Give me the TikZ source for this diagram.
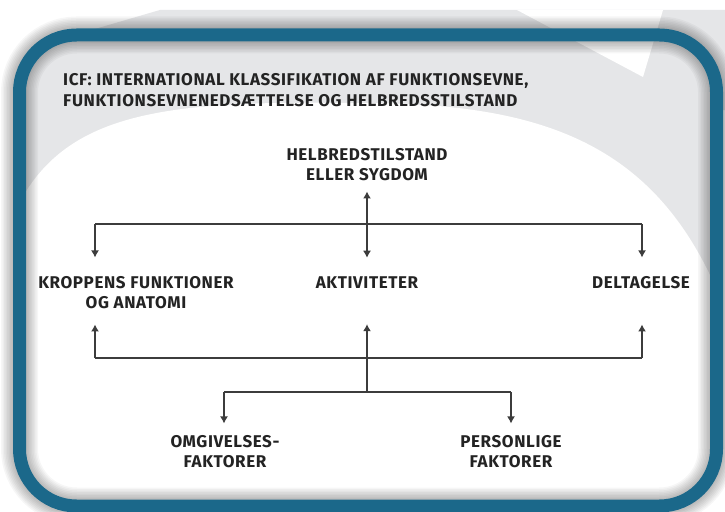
\documentclass[tikz,border=0pt]{standalone}
\usepackage{fontspec}
\setmainfont{Fira Sans}[LetterSpace=3.5]
\usetikzlibrary{arrows.meta}
\tikzset{>={Latex[length=7pt,width=8pt]}}
\definecolor{myframe}{RGB}{27,104,138}
\definecolor{mybggray}{RGB}{229,230,232}
\definecolor{mytext}{RGB}{35,35,35}
\definecolor{myline}{RGB}{60,60,60}
\tikzset{
  lbl/.style={font=\bfseries\fontsize{17}{20}\selectfont, text=mytext,
    align=center, inner sep=0pt, anchor=base},
  link/.style={draw=myline, line width=1.2pt},
}

\begin{document}
\begin{tikzpicture}[x=1pt,y=-1pt]

  \def\rc{57} % corner radius of the frame
  \useasboundingbox (0,0) rectangle (725,511);
  \fill[white] (0,0) rectangle (725,511);

  % page behind the frame
  \fill[mybggray]
    (40,45) -- (160,10) -- (725,10) -- (725,110) -- (40,110) -- cycle;
  \begin{scope}
    \clip[rounded corners=\rc] (19.5,35) rectangle (716.5,506);
    \fill[mybggray] (0,0) rectangle (725,511);
    \fill[white]
      (0,250) .. controls (40,120) and (130,100) .. (345,103)
      .. controls (540,101) and (660,140) .. (725,310)
      -- (725,511) -- (0,511) -- cycle;
  \end{scope}
  \fill[white] % fold
    (517,10) -- (663,10) -- (643,77) -- cycle;

  % shadow and frame
  \foreach \w in {16,19,...,37}
    \draw[black, opacity=0.035, line width=\w pt, rounded corners=\rc]
      (19.5,35) rectangle (716.5,506);
  \draw[myframe, line width=13pt, rounded corners=\rc]
    (19.5,35) rectangle (716.5,506);

  % labels (base = baseline of the last line)
  \node[lbl, anchor=base west, align=left, font=\bfseries\fontsize{17}{21}\selectfont]
    (title) at (63,106.5)
    {ICF: INTERNATIONAL KLASSIFIKATION AF FUNKTIONSEVNE,\\
     FUNKTIONSEVNENEDSÆTTELSE OG HELBREDSSTILSTAND};
  \node[lbl] (helbred) at (367,180) {HELBREDSTILSTAND\\ELLER SYGDOM};
  \node[lbl] (krop) at (136,308.5) {KROPPENS FUNKTIONER\\OG ANATOMI};
  \node[lbl] (aktiv) at (367,288.5) {AKTIVITETER};
  \node[lbl] (delta) at (641,288.5) {DELTAGELSE};
  \node[lbl] (omgiv) at (225,467.5) {OMGIVELSES-\\FAKTORER};
  \node[lbl] (person) at (511,467.5) {PERSONLIGE\\FAKTORER};

  % upper fork
  \coordinate (forkTL) at (95,224);
  \coordinate (forkTR) at (642,224);
  \draw[link] (forkTL) -- (forkTR);
  \draw[link,->,shorten >=18.8pt] (forkTL) -- (forkTL |- krop.north);
  \draw[link,->,shorten >=18.8pt] (forkTR) -- (forkTR |- delta.north);
  \draw[link,<->,shorten <=11pt,shorten >=18.8pt] (helbred.south) -- (aktiv.north);

  % lower fork
  \coordinate (forkBL) at (95,358);
  \coordinate (forkBR) at (642,358);
  \coordinate (forkB) at (367,392);
  \coordinate (forkOL) at (224,392);
  \coordinate (forkOR) at (511,392);
  \draw[link] (forkBL) -- (forkBR);
  \draw[link,->,shorten >=15.5pt] (forkBL) -- (forkBL |- krop.south);
  \draw[link,->,shorten >=35.5pt] (forkBR) -- (forkBR |- delta.south);
  \draw[link,->,shorten >=35.5pt] (forkB) -- (aktiv.south);
  \draw[link] (forkOL) -- (forkOR);
  \draw[link,->,shorten >=11.8pt] (forkOL) -- (forkOL |- omgiv.north);
  \draw[link,->,shorten >=11.8pt] (forkOR) -- (forkOR |- person.north);

\end{tikzpicture}
\end{document}
